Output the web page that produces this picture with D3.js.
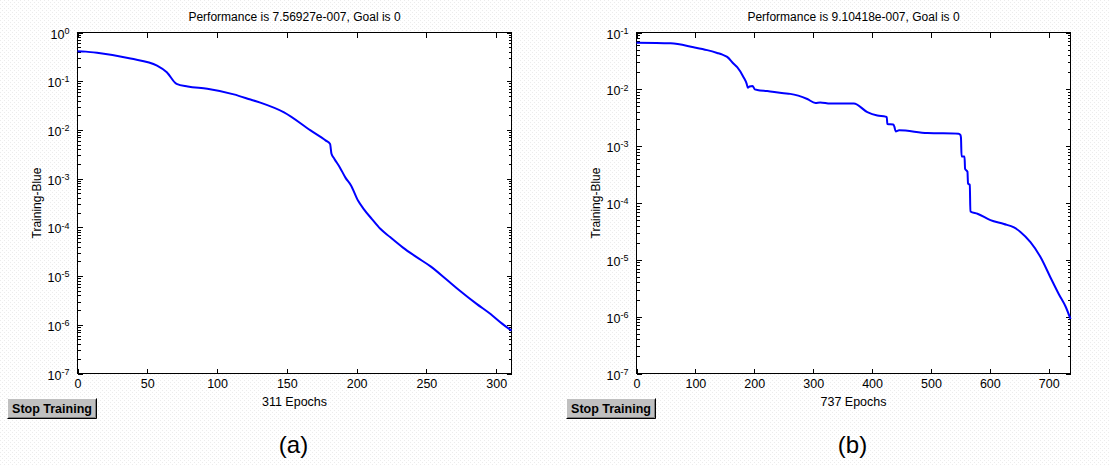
<!DOCTYPE html>
<meta charset="utf-8">
<style>
body{ margin:0; background:#fff; }
text{ font-family: Arial, "Liberation Sans", sans-serif; fill:#000; }
.axis text{ font-size:12.5px; }
.axis line{ stroke:#000; shape-rendering:crispEdges; }
.frame{ fill:#fff; stroke:#000; shape-rendering:crispEdges; }
.curve{ fill:none; stroke:#0000ff; stroke-width:2; }
</style>
<svg class="chart" width="1110" height="465"></svg>
<script src="https://cdnjs.cloudflare.com/ajax/libs/d3/7.8.5/d3.min.js"></script>
<script>
// panel (a)
var epochsA = [0, 6, 14, 38, 57, 64, 71, 79, 93, 112, 124, 131, 148, 167, 178, 181, 182, 184, 188, 192, 196, 201, 205, 211, 217, 224, 233, 243, 253, 264, 274, 286, 296, 304, 311];
var perfA = [0.413, 0.405, 0.383, 0.292, 0.210, 0.153, 0.0883, 0.0778, 0.0698, 0.0537, 0.0420, 0.0363, 0.0229, 0.00977, 0.00603, 0.00513, 0.00324, 0.00257, 0.00170, 0.00105, 7.24e-4, 3.55e-4, 2.40e-4, 1.48e-4, 9.33e-5, 6.31e-5, 3.89e-5, 2.45e-5, 1.58e-5, 8.71e-6, 5.01e-6, 2.69e-6, 1.66e-6, 1.07e-6, 7.57e-7];
var xTicksA = [0, 50, 100, 150, 200, 250, 300];
var yDecadesA = [1e-7, 1e-6, 1e-5, 1e-4, 1e-3, 1e-2, 1e-1, 1];

// panel (b)
var epochsB = [0, 58, 97, 120, 137, 146, 154, 165, 171, 182, 187, 189, 192, 197, 201, 205, 222, 250, 261, 290, 304, 312, 329, 369, 392, 409, 423, 425, 426, 436, 438, 440, 446, 494, 547, 550, 551, 552, 557, 558, 562, 563, 566, 567, 579, 601, 624, 641, 652, 669, 686, 703, 717, 729, 737];
var perfB = [0.0661, 0.0646, 0.0550, 0.0490, 0.0437, 0.0407, 0.0372, 0.0282, 0.0245, 0.0162, 0.0126, 0.0107, 0.0112, 0.0115, 0.0100, 0.00977, 0.00933, 0.00851, 0.00832, 0.00676, 0.00575, 0.00589, 0.00562, 0.00562, 0.00398, 0.00347, 0.00331, 0.00324, 0.00245, 0.00240, 0.00219, 0.00182, 0.00191, 0.00170, 0.00166, 0.00158, 0.00141, 6.61e-4, 6.61e-4, 3.98e-4, 3.55e-4, 2.19e-4, 2.09e-4, 7.08e-5, 6.46e-5, 5.01e-5, 4.27e-5, 3.72e-5, 3.09e-5, 2.04e-5, 1.12e-5, 4.90e-6, 2.51e-6, 1.48e-6, 9.10e-7];
var xTicksB = [0, 100, 200, 300, 400, 500, 600, 700];
var yDecadesB = [1e-7, 1e-6, 1e-5, 1e-4, 1e-3, 1e-2, 1e-1];

var titles = ["Performance is 7.56927e-007, Goal is 0", "Performance is 9.10418e-007, Goal is 0"];
var xLabels = ["311 Epochs", "737 Epochs"];
var yLabel = "Training-Blue";
var panelTags = ["(a)", "(b)"];
var buttonText = "Stop Training";

var width = 434, height = 341;

var svg = d3.select(".chart");

// faint dotted figure background
var pat = svg.append("defs").append("pattern")
	.attr("id","dots").attr("width",4).attr("height",4)
	.attr("patternUnits","userSpaceOnUse");
pat.append("rect").attr("x",0).attr("y",0).attr("width",1).attr("height",1).attr("fill","#ececec");
pat.append("rect").attr("x",2).attr("y",2).attr("width",1).attr("height",1).attr("fill","#ececec");
svg.append("rect").attr("width",1110).attr("height",465).attr("fill","url(#dots)");

function minorTicks(decades){
	var out = [];
	decades.slice(0,-1).forEach(function(d){
		for(var k = 2; k < 10; k++) out.push(d*k);
	});
	return out;
}

function drawPanel(left, epochs, perf, xTicks, decades, idx, btnX, btnY){
	var x = d3.scaleLinear()
		.domain([0, epochs[epochs.length-1]])
		.range([0, width]);
	var y = d3.scaleLog()
		.domain([decades[0], decades[decades.length-1]])
		.range([height, 0]);

	var g = svg.append("g")
		.attr("transform","translate(" + (left+0.5) + ",32.5)");

	g.append("rect").attr("class","frame")
		.attr("width",width).attr("height",height);

	// x ticks bottom + top
	g.append("g").attr("class","axis")
		.attr("transform","translate(0," + height + ")")
		.call(d3.axisBottom(x).tickValues(xTicks).tickSizeInner(-5).tickSizeOuter(0).tickPadding(6))
		.call(function(s){ s.select(".domain").remove(); });
	g.append("g").attr("class","axis")
		.call(d3.axisTop(x).tickValues(xTicks).tickSizeInner(-5).tickSizeOuter(0).tickFormat(""))
		.call(function(s){ s.select(".domain").remove(); });

	// y minor ticks, left + right
	var minor = minorTicks(decades);
	g.append("g").attr("class","axis")
		.call(d3.axisLeft(y).tickValues(minor).tickSizeInner(-3).tickSizeOuter(0).tickFormat(""))
		.call(function(s){ s.select(".domain").remove(); });
	g.append("g").attr("class","axis")
		.attr("transform","translate(" + width + ",0)")
		.call(d3.axisRight(y).tickValues(minor).tickSizeInner(-3).tickSizeOuter(0).tickFormat(""))
		.call(function(s){ s.select(".domain").remove(); });

	// y major ticks with 10^n labels
	g.append("g").attr("class","axis")
		.call(d3.axisLeft(y).tickValues(decades).tickSizeInner(-5).tickSizeOuter(0).tickPadding(8))
		.call(function(s){
			s.select(".domain").remove();
			s.selectAll("text").text(null).attr("font-size","13.5px").attr("dy","0.45em")
				.each(function(d){
					var t = d3.select(this);
					t.append("tspan").text("10");
					t.append("tspan").attr("dy","-0.55em").attr("font-size","9px")
						.text(Math.round(Math.log10(d)));
				});
		});
	g.append("g").attr("class","axis")
		.attr("transform","translate(" + width + ",0)")
		.call(d3.axisRight(y).tickValues(decades).tickSizeInner(-5).tickSizeOuter(0).tickFormat(""))
		.call(function(s){ s.select(".domain").remove(); });

	var data = epochs.map(function(e,i){ return [e, perf[i]]; });
	g.append("path").attr("class","curve")
		.datum(data)
		.attr("d", d3.line()
			.curve(d3.curveMonotoneX)
			.x(function(d){ return x(d[0]); })
			.y(function(d){ return y(d[1]); }));

	g.append("text")
		.attr("x", width/2).attr("y", -11.5)
		.attr("text-anchor","middle").attr("font-size","12px")
		.text(titles[idx]);

	g.append("text")
		.attr("x", width/2).attr("y", height + 32)
		.attr("text-anchor","middle").attr("font-size","12.5px")
		.text(xLabels[idx]);

	g.append("text")
		.attr("transform","translate(-37," + (height/2) + ") rotate(-90)")
		.attr("text-anchor","middle").attr("font-size","12px")
		.text(yLabel);

	g.append("text")
		.attr("x", width/2 - 1).attr("y", height + 79)
		.attr("text-anchor","middle").attr("font-size","24px")
		.text(panelTags[idx]);

	// button
	var b = svg.append("g").attr("transform","translate(" + btnX + "," + btnY + ")");
	b.append("rect").attr("width",90).attr("height",21).attr("fill","#c0c0c0");
	b.append("path").attr("d","M0.5,20.5V0.5H89.5").attr("fill","none").attr("stroke","#fff");
	b.append("path").attr("d","M0.5,20.5H89.5V0.5").attr("fill","none").attr("stroke","#000");
	b.append("path").attr("d","M1.5,19.5H88.5V1.5").attr("fill","none").attr("stroke","#808080");
	b.append("text").attr("x",45).attr("y",15).attr("text-anchor","middle")
		.attr("font-size","12.5px").attr("font-weight","bold")
		.text(buttonText);
}

drawPanel(77, epochsA, perfA, xTicksA, yDecadesA, 0, 7, 398);
drawPanel(636, epochsB, perfB, xTicksB, yDecadesB, 1, 566, 398);
</script>
